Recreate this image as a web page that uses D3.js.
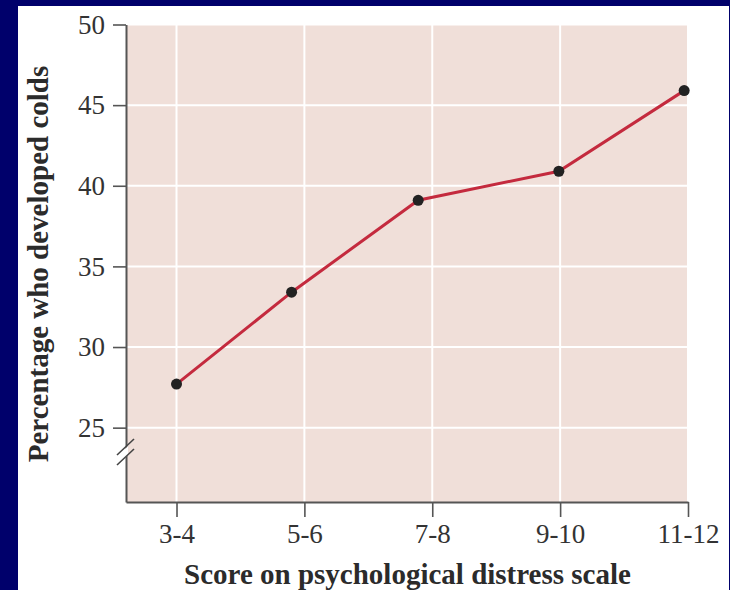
<!DOCTYPE html>
<html>
<head>
<meta charset="utf-8">
<script src="https://cdn.jsdelivr.net/npm/d3@7"></script>
<style>
  html, body { margin: 0; padding: 0; background: #00006b; }
  svg { display: block; }
  .tick text { font-family: "Liberation Serif", "DejaVu Serif", serif; fill: #333; }
</style>
</head>
<body>
<svg id="chart" width="730" height="590"></svg>
<script>
// Distress score groups (category labels) and where each group sits on the score axis
const categories = ["3-4", "5-6", "7-8", "9-10", "11-12"];
const categoryCenters = [3.5, 5.5, 7.5, 9.5, 11.5];
// Mean distress score of each group (x of the plotted point)
const meanScores = [3.5, 5.3, 7.28, 9.48, 11.44];
// Percentage of participants who developed colds
const coldPercent = [27.7, 33.4, 39.1, 40.9, 45.9];
const yTicks = [25, 30, 35, 40, 45, 50];

const svg = d3.select("#chart");
const W = 730, H = 590;

const plot = { left: 126, right: 688, top: 24.5, bottom: 502 };

// white page
svg.append("rect").attr("x", 18).attr("y", 6).attr("width", 711).attr("height", H - 6).attr("fill", "#ffffff");

const x = d3.scaleLinear().domain([2.71, 11.5]).range([plot.left, plot.right]);
const y = d3.scaleLinear().domain([20.39, 50]).range([plot.bottom, plot.top]);

// panel background
svg.append("rect")
  .attr("x", plot.left).attr("y", plot.top)
  .attr("width", plot.right - plot.left).attr("height", plot.bottom - plot.top)
  .attr("fill", "#f0dfd9");

// grid
const grid = svg.append("g").attr("stroke", "#ffffff").attr("stroke-width", 2);
grid.selectAll("line.h").data(yTicks).join("line")
  .attr("class", "h")
  .attr("x1", plot.left).attr("x2", plot.right)
  .attr("y1", d => y(d)).attr("y2", d => y(d));
grid.selectAll("line.v").data(categoryCenters).join("line")
  .attr("class", "v")
  .attr("x1", d => x(d)).attr("x2", d => x(d))
  .attr("y1", plot.top).attr("y2", plot.bottom);

// axes
const yAxis = svg.append("g")
  .attr("transform", `translate(${plot.left},0)`)
  .call(d3.axisLeft(y).tickValues(yTicks).tickSize(13).tickSizeOuter(0).tickPadding(8));
const xAxis = svg.append("g")
  .attr("transform", `translate(0,${plot.bottom})`)
  .call(d3.axisBottom(x).tickValues(categoryCenters)
    .tickFormat((d, i) => categories[i]).tickSize(15).tickSizeOuter(0).tickPadding(7));

[yAxis, xAxis].forEach(g => {
  g.select(".domain").attr("stroke", "#555").attr("stroke-width", 2);
  g.selectAll(".tick line").attr("stroke", "#555").attr("stroke-width", 1.6);
  g.selectAll(".tick text").attr("font-size", 27);
});

// axis break marks
const brk = svg.append("g");
brk.append("polygon")
  .attr("points", [[plot.left - 2, 450], [plot.left + 2, 446], [plot.left + 2, 455], [plot.left - 2, 459]].join(" "))
  .attr("fill", "#ffffff");
[0, 10].forEach(off => {
  brk.append("line")
    .attr("x1", plot.left - 9).attr("y1", 455 + off)
    .attr("x2", plot.left + 8).attr("y2", 439 + off)
    .attr("stroke", "#444").attr("stroke-width", 1.6);
});

// data line
const pts = meanScores.map((s, i) => [s, coldPercent[i]]);
svg.append("path")
  .datum(pts)
  .attr("fill", "none")
  .attr("stroke", "#c42a3e")
  .attr("stroke-width", 3)
  .attr("d", d3.line().x(d => x(d[0])).y(d => y(d[1])));

svg.append("g").selectAll("circle").data(pts).join("circle")
  .attr("cx", d => x(d[0])).attr("cy", d => y(d[1]))
  .attr("r", 5.5).attr("fill", "#222");

// axis titles
svg.append("text")
  .attr("x", 407.5).attr("y", 584)
  .attr("text-anchor", "middle")
  .attr("font-family", "Liberation Serif, DejaVu Serif, serif")
  .attr("font-weight", "bold").attr("font-size", 29).attr("fill", "#2b2b2b")
  .text("Score on psychological distress scale");

svg.append("text")
  .attr("transform", "translate(48,264) rotate(-90)")
  .attr("text-anchor", "middle")
  .attr("font-family", "Liberation Serif, DejaVu Serif, serif")
  .attr("font-weight", "bold").attr("font-size", 29).attr("fill", "#2b2b2b")
  .text("Percentage who developed colds");
</script>
</body>
</html>
